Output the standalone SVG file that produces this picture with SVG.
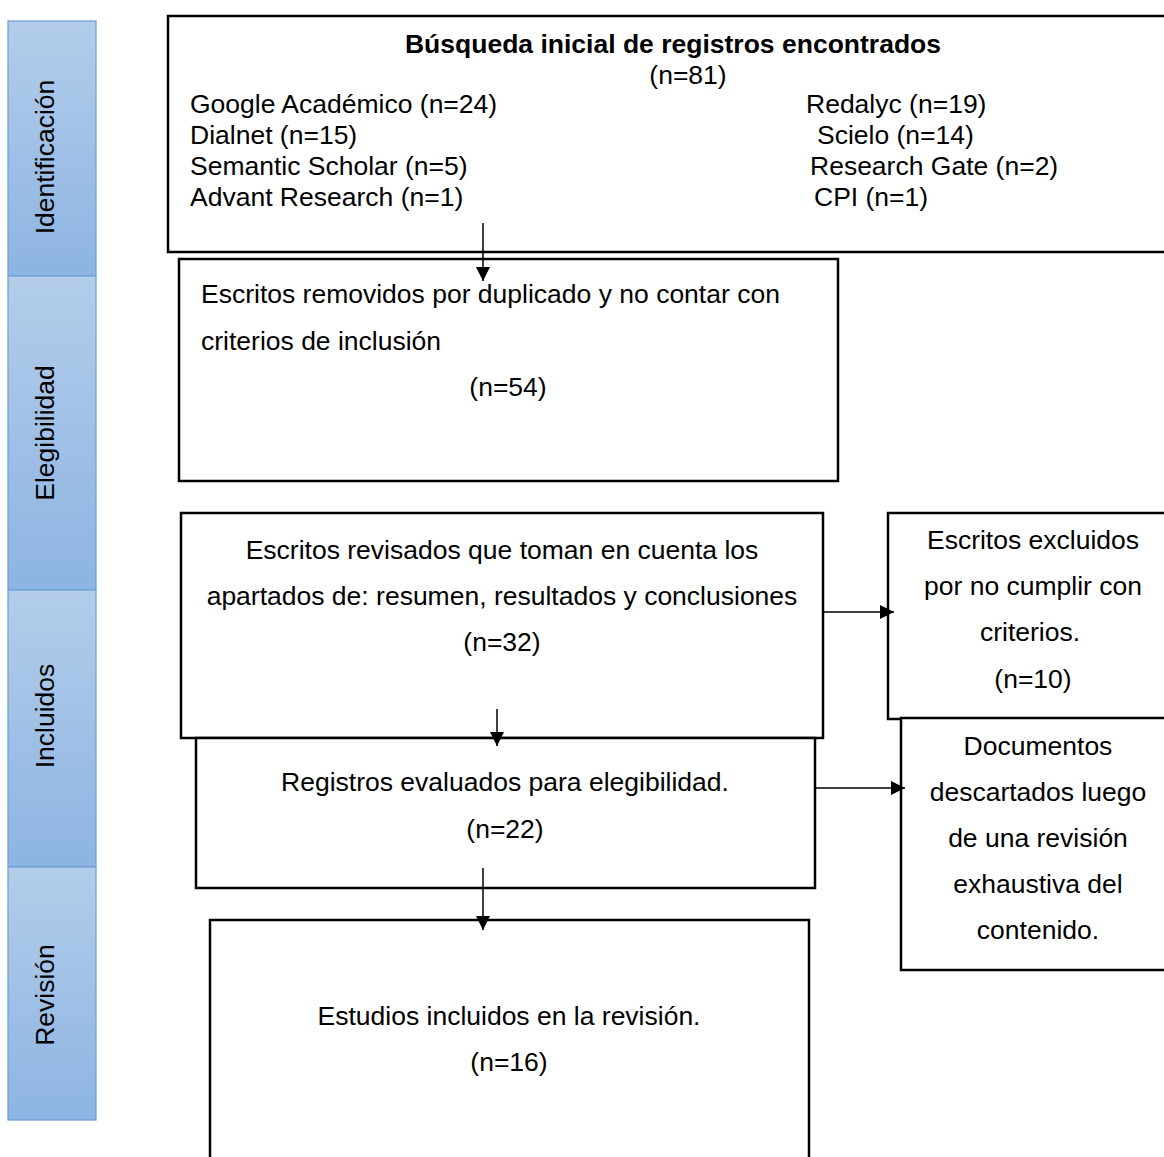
<svg xmlns="http://www.w3.org/2000/svg" width="1164" height="1157" viewBox="0 0 1164 1157">
<style>
.box{fill:#fff;stroke:#000;stroke-width:2.5}
.seg{fill:url(#g);stroke:#6b9fd6;stroke-width:1.2}
text{font-family:"Liberation Sans",Arial,sans-serif;font-size:26.5px;fill:#000}
.c{text-anchor:middle}
.b{font-weight:bold}
.con{stroke:#000;stroke-width:1.5;fill:none}
</style>
<defs>
<linearGradient id="g" x1="0" y1="0" x2="0" y2="1">
<stop offset="0" stop-color="#b3cdea"/>
<stop offset="1" stop-color="#8db4e2"/>
</linearGradient>
<marker id="ar" viewBox="0 0 10 10" refX="10" refY="5" markerWidth="14" markerHeight="14" markerUnits="userSpaceOnUse" orient="auto">
<path d="M0,0 L10,5 L0,10 Z" fill="#000"/>
</marker>
</defs>
<rect width="1164" height="1157" fill="#fff"/>
<g id="sidebar">
<g id="seg-identificacion"><rect class="seg" x="8" y="21" width="88" height="255"/><text class="c" transform="translate(54,157) rotate(-90)">Identificación</text></g>
<g id="seg-elegibilidad"><rect class="seg" x="8" y="276" width="88" height="314"/><text class="c" transform="translate(54,433) rotate(-90)">Elegibilidad</text></g>
<g id="seg-incluidos"><rect class="seg" x="8" y="590" width="88" height="277"/><text class="c" transform="translate(54,716) rotate(-90)">Incluidos</text></g>
<g id="seg-revision"><rect class="seg" x="8" y="867" width="88" height="253"/><text class="c" transform="translate(54,995) rotate(-90)">Revisión</text></g>
</g>
<g id="n-busqueda">
<rect class="box" x="168" y="16" width="1010" height="236"/>
<text class="c b" x="673" y="53">Búsqueda inicial de registros encontrados</text>
<text class="c" x="688" y="84">(n=81)</text>
<text x="190" y="113">Google Académico (n=24)</text>
<text x="190" y="144">Dialnet (n=15)</text>
<text x="190" y="175">Semantic Scholar (n=5)</text>
<text x="190" y="206">Advant Research (n=1)</text>
<text x="806" y="113">Redalyc (n=19)</text>
<text x="817" y="144">Scielo (n=14)</text>
<text x="810" y="175">Research Gate (n=2)</text>
<text x="814" y="206">CPI (n=1)</text>
</g>
<g id="n-removidos">
<rect class="box" x="179" y="259" width="659" height="222"/>
<text x="201" y="303">Escritos removidos por duplicado y no contar con</text>
<text x="201" y="350">criterios de inclusión</text>
<text class="c" x="508" y="396">(n=54)</text>
</g>
<g id="n-revisados">
<rect class="box" x="181" y="513" width="642" height="225"/>
<text class="c" x="502" y="559">Escritos revisados que toman en cuenta los</text>
<text class="c" x="502" y="605">apartados de: resumen, resultados y conclusiones</text>
<text class="c" x="502" y="651">(n=32)</text>
</g>
<g id="n-excluidos">
<rect class="box" x="888" y="513" width="290" height="206"/>
<text class="c" x="1033" y="549">Escritos excluidos</text>
<text class="c" x="1033" y="595">por no cumplir con</text>
<text class="c" x="1030" y="641">criterios.</text>
<text class="c" x="1033" y="688">(n=10)</text>
</g>
<g id="n-evaluados">
<rect class="box" x="196" y="738" width="619" height="150"/>
<text class="c" x="505" y="791">Registros evaluados para elegibilidad.</text>
<text class="c" x="505" y="838">(n=22)</text>
</g>
<g id="n-descartados">
<rect class="box" x="901" y="718" width="277" height="252"/>
<text class="c" x="1038" y="755">Documentos</text>
<text class="c" x="1038" y="801">descartados luego</text>
<text class="c" x="1038" y="847">de una revisión</text>
<text class="c" x="1038" y="893">exhaustiva del</text>
<text class="c" x="1038" y="939">contenido.</text>
</g>
<g id="n-estudios">
<rect class="box" x="210" y="920" width="599" height="260"/>
<text class="c" x="509" y="1025">Estudios incluidos en la revisión.</text>
<text class="c" x="509" y="1071">(n=16)</text>
</g>
<g id="connectors">
<line class="con" x1="483" y1="223" x2="483" y2="281" marker-end="url(#ar)"/>
<line class="con" x1="497" y1="709" x2="497" y2="746" marker-end="url(#ar)"/>
<line class="con" x1="483" y1="868" x2="483" y2="930" marker-end="url(#ar)"/>
<line class="con" x1="823" y1="612" x2="894" y2="612" marker-end="url(#ar)"/>
<line class="con" x1="815" y1="788" x2="905" y2="788" marker-end="url(#ar)"/>
</g>
</svg>
